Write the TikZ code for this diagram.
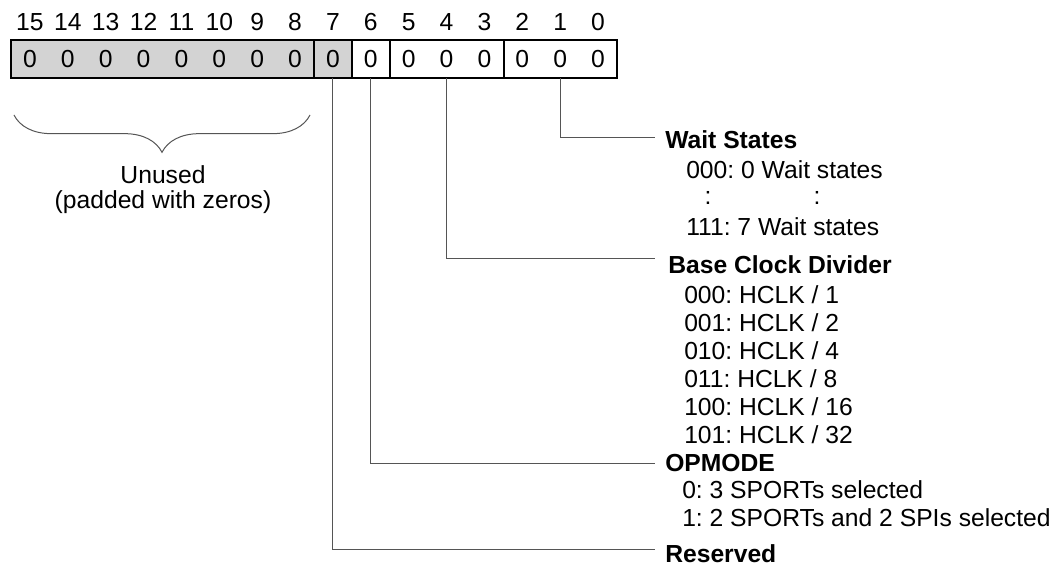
\documentclass[tikz,border=0pt]{standalone}
\usepackage{fontspec}
\setmainfont{Liberation Sans}
\usetikzlibrary{decorations.pathreplacing}
\definecolor{regfill}{RGB}{211,211,211}
\definecolor{linegray}{RGB}{85,85,85}
\frenchspacing
\begin{document}
\begin{tikzpicture}[x=.75pt, y=-.75pt,
  every node/.style={font=\fontsize{18.5}{21}\selectfont, inner sep=0pt, text height=13.2pt, text depth=0pt},
  regline/.style={line width=1.5pt},
  conn/.style={linegray, line width=.75pt},
  cell/.style={minimum width=28.4pt, minimum height=28.5pt},
  head/.style={anchor=west, font=\fontsize{18.5}{21}\selectfont\bfseries},
  item/.style={anchor=west}]
  \useasboundingbox (0,0) rectangle (1054,567);

  \fill[regfill] (11,40) rectangle (351.9,78);
  \foreach \i in {15,...,0} {
    \node[cell] (b\i) at ({11+(15.5-\i)*37.875},59) {0};
    \node (n\i) at ({11+(15.5-\i)*37.875},22) {\i};
  }
  \draw[regline] (b15.north west) rectangle (b0.south east);
  \foreach \i in {8,7,6,3}
    \draw[regline] (b\i.north east) -- (b\i.south east);

  \coordinate (wsend) at (655,138);
  \coordinate (bcdend) at (655,258);
  \coordinate (opend) at (655,463);
  \coordinate (resend) at (655,549);
  \draw[conn] (b1.south) |- (wsend);
  \draw[conn] (b4.south) |- (bcdend);
  \draw[conn] (b6.south) |- (opend);
  \draw[conn] (b7.south) |- (resend);

  \node[head] (ws) at (665,140) {Wait States};
  \node[item] (ws0) at (686,170) {000: 0 Wait states};
  \node (wsd1) at (708,196) {:};
  \node (wsd2) at (817,196) {:};
  \node[item] (ws7) at (686,227) {111: 7 Wait states};
  \node[head] (bcd) at (668,265) {Base Clock Divider};
  \foreach \v/\d [count=\k from 0] in {000/1,001/2,010/4,011/8,100/16,101/32}
    \node[item] (hc\k) at (684,{295+28*\k}) {\v: HCLK / \d};
  \node[head] (op) at (665,463) {OPMODE};
  \node[item] (op0) at (682,490) {0: 3 SPORTs selected};
  \node[item] (op1) at (682,518) {1: 2 SPORTs and 2 SPIs selected};
  \node[head] (res) at (665,554) {Reserved};

  \coordinate (brL) at (14,115);
  \coordinate (brR) at (310,115);
  \draw[linegray, line width=.75pt, decorate, decoration={brace, amplitude=28pt}] (brR) -- (brL);
  \node (un1) at (163,175) {Unused};
  \node (un2) at (163,200) {(padded with zeros)};
\end{tikzpicture}
\end{document}
